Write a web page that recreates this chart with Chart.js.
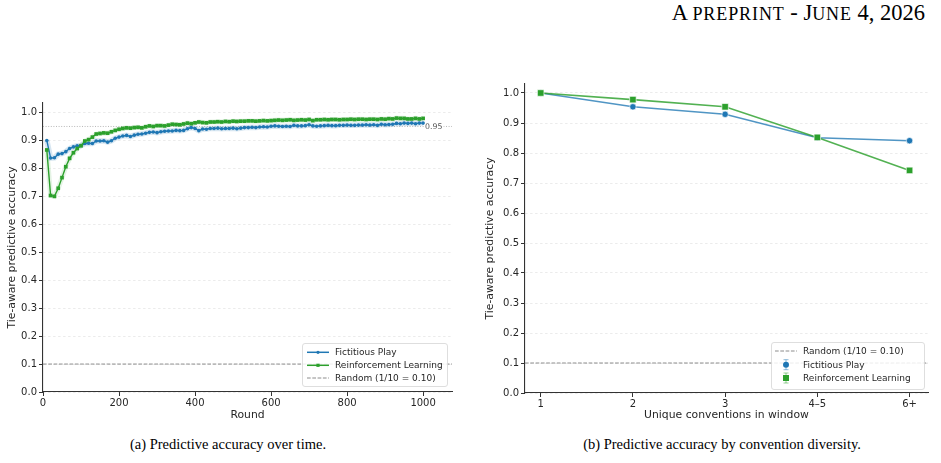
<!DOCTYPE html>
<html>
<head>
<meta charset="utf-8">
<script src="https://cdn.jsdelivr.net/npm/chart.js@4.4.1/dist/chart.umd.min.js"></script>
<style>
  body { margin:0; background:#fff; width:941px; height:463px; position:relative; overflow:hidden; }
  #hdr { position:absolute; right:16px; top:0px; font-family:"Liberation Serif","Times New Roman",serif; font-size:22.5px; color:#000; white-space:nowrap; }
  #hdr .sc { font-size:0.8em; letter-spacing:0.05em; }
  .cap { position:absolute; top:436px; font-family:"Liberation Serif","Times New Roman",serif; font-size:14.5px; color:#000; white-space:nowrap; transform:translateX(-50%); }
  #wrapA { position:absolute; left:0; top:90px; }
  #wrapB { position:absolute; left:470px; top:75px; }
</style>
</head>
<body>
<div id="hdr">A <span class="sc">PREPRINT</span> - J<span class="sc">UNE</span> 4, 2026</div>
<div id="wrapA"><canvas id="chartA" width="462" height="340"></canvas></div>
<div id="wrapB"><canvas id="chartB" width="471" height="355"></canvas></div>
<div class="cap" style="left:228px">(a) Predictive accuracy over time.</div>
<div class="cap" style="left:722px">(b) Predictive accuracy by convention diversity.</div>
<script>
// --- data (a): accuracy per round
const rounds = [10,20,30,40,50,60,70,80,90,100,110,120,130,140,150,160,170,180,190,200,
  210,220,230,240,250,260,270,280,290,300,310,320,330,340,350,360,370,380,390,400,
  410,420,430,440,450,460,470,480,490,500,510,520,530,540,550,560,570,580,590,600,
  610,620,630,640,650,660,670,680,690,700,710,720,730,740,750,760,770,780,790,800,
  810,820,830,840,850,860,870,880,890,900,910,920,930,940,950,960,970,980,990,1000];
const fpAcc = [0.900,0.837,0.838,0.851,0.853,0.860,0.871,0.877,0.881,0.882,
  0.889,0.890,0.889,0.898,0.898,0.899,0.894,0.899,0.908,0.912,
  0.916,0.918,0.914,0.919,0.922,0.923,0.926,0.929,0.930,0.928,
  0.931,0.933,0.934,0.934,0.936,0.935,0.936,0.942,0.946,0.943,
  0.935,0.941,0.940,0.943,0.943,0.944,0.942,0.943,0.943,0.944,
  0.942,0.944,0.946,0.946,0.947,0.946,0.948,0.949,0.948,0.951,
  0.952,0.951,0.950,0.951,0.950,0.954,0.952,0.952,0.953,0.956,
  0.952,0.951,0.952,0.953,0.954,0.953,0.953,0.954,0.954,0.955,
  0.954,0.954,0.955,0.955,0.956,0.955,0.956,0.954,0.958,0.956,
  0.957,0.958,0.961,0.960,0.962,0.961,0.962,0.960,0.962,0.962];
const rlAcc = [0.866,0.703,0.700,0.729,0.767,0.806,0.836,0.856,0.871,0.881,
  0.898,0.903,0.912,0.923,0.925,0.927,0.926,0.931,0.936,0.940,
  0.943,0.945,0.944,0.946,0.947,0.945,0.949,0.952,0.950,0.953,
  0.953,0.952,0.955,0.958,0.957,0.956,0.959,0.962,0.960,0.963,
  0.966,0.964,0.963,0.966,0.966,0.967,0.966,0.968,0.967,0.969,
  0.968,0.969,0.969,0.970,0.970,0.969,0.970,0.971,0.970,0.971,
  0.972,0.973,0.972,0.973,0.974,0.972,0.973,0.974,0.973,0.975,
  0.971,0.974,0.974,0.975,0.974,0.975,0.975,0.974,0.975,0.975,
  0.976,0.975,0.976,0.976,0.975,0.976,0.976,0.975,0.977,0.976,
  0.978,0.977,0.980,0.979,0.979,0.977,0.977,0.979,0.977,0.979];

// --- data (b): accuracy by number of unique conventions
const convCats = ['1', '2', '3', '4–5', '6+'];
const fpByConv = [1.000, 0.954, 0.929, 0.851, 0.841];
const rlByConv = [1.000, 0.978, 0.954, 0.852, 0.742];

const yTicks = [0.0,0.1,0.2,0.3,0.4,0.5,0.6,0.7,0.8,0.9,1.0];
const roundTicks = [0,200,400,600,800,1000];
const seriesNames = ['Fictitious Play', 'Reinforcement Learning'];
const randomLevel = 0.10;
const randomLabel = 'Random (1/10 = 0.10)';
const refLevel = 0.95;

const BLUE = '#1f77b4', GREEN = '#2ca02c';
const INK = '#262626';
const FONT = '"DejaVu Sans", sans-serif';

// horizontal reference lines drawn below the data
const refLines = {
  id: 'refLines',
  beforeDatasetsDraw(chart, args, opts) {
    const {ctx, chartArea: a, scales: {y}} = chart;
    (opts.lines || []).forEach(l => {
      const py = y.getPixelForValue(l.value);
      ctx.save();
      ctx.strokeStyle = l.color;
      ctx.lineWidth = l.width || 1;
      ctx.setLineDash(l.dash);
      ctx.beginPath();
      ctx.moveTo(a.left, py);
      ctx.lineTo(a.right, py);
      ctx.stroke();
      if (l.text) {
        ctx.font = '7.8px ' + FONT;
        const tw = ctx.measureText(l.text).width;
        const tx = a.right - 27;
        ctx.fillStyle = '#fff';
        ctx.fillRect(tx - 1, py - 5, tw + 2, 10);
        ctx.fillStyle = '#555';
        ctx.textBaseline = 'middle';
        ctx.fillText(l.text, tx, py + 0.5);
      }
      ctx.restore();
    });
  }
};

function drawMarker(ctx, kind, x, y, r, color) {
  ctx.fillStyle = color;
  ctx.beginPath();
  if (kind === 'circle') ctx.arc(x, y, r, 0, Math.PI * 2);
  else ctx.rect(x - r, y - r, 2 * r, 2 * r);
  ctx.fill();
}

// legend box inside the plot, bottom right
const boxLegend = {
  id: 'boxLegend',
  afterDraw(chart, args, o) {
    const {ctx, chartArea: a} = chart;
    const x0 = a.right - o.gapRight - o.w, y0 = a.bottom - o.gapBottom - o.h;
    ctx.save();
    ctx.fillStyle = 'rgba(255,255,255,0.85)';
    ctx.strokeStyle = '#d6d6d6';
    ctx.lineWidth = 0.8;
    ctx.beginPath();
    ctx.roundRect(x0 + 0.5, y0 + 0.5, o.w, o.h, 2.5);
    ctx.fill();
    ctx.stroke();
    ctx.font = '9px ' + FONT;
    ctx.textBaseline = 'middle';
    o.items.forEach((it, i) => {
      const ry = y0 + o.rows[i];
      const sx = x0 + o.sampleX, ex = sx + 22, mx = (sx + ex) / 2;
      ctx.setLineDash(it.dash || []);
      if (it.kind !== 'err') {
        ctx.strokeStyle = it.color;
        ctx.lineWidth = it.dash ? 1 : 1.5;
        ctx.beginPath();
        ctx.moveTo(sx, ry);
        ctx.lineTo(ex, ry);
        ctx.stroke();
        if (it.marker) drawMarker(ctx, it.marker, mx, ry, 1.6, it.color);
      } else {
        ctx.strokeStyle = it.color;
        ctx.globalAlpha = 0.5;
        ctx.lineWidth = 1;
        ctx.beginPath();
        ctx.moveTo(mx, ry - 5); ctx.lineTo(mx, ry + 5);
        ctx.moveTo(mx - 2.5, ry - 5); ctx.lineTo(mx + 2.5, ry - 5);
        ctx.moveTo(mx - 2.5, ry + 5); ctx.lineTo(mx + 2.5, ry + 5);
        ctx.stroke();
        ctx.globalAlpha = 1;
        drawMarker(ctx, it.marker, mx, ry, 3, it.color);
      }
      ctx.setLineDash([]);
      ctx.fillStyle = INK;
      ctx.fillText(it.text, x0 + o.textX, ry + 0.5);
    });
    ctx.restore();
  }
};

function yScale(width, titlePad) {
  return {
    min: 0, max: 1.034,
    afterBuildTicks: s => { s.ticks = yTicks.map(v => ({value: v})); },
    afterFit: s => { s.width = width; },
    ticks: { color: INK, font: {family: FONT, size: 10}, padding: 2,
             callback: v => v.toFixed(1) },
    grid: { color: 'rgba(0,0,0,0.10)', lineWidth: 0.8, tickLength: 4,
            tickColor: '#333', tickWidth: 1, tickBorderDash: [] },
    border: { color: '#333', width: 1.1, dash: [2.5, 2.5] },
    title: { display: true, text: 'Tie-aware predictive accuracy', color: INK,
             font: {family: FONT, size: 10.8}, padding: {top: titlePad, bottom: 0} }
  };
}

Chart.defaults.animation = false;
Chart.defaults.font.family = FONT;

new Chart(document.getElementById('chartA'), {
  type: 'line',
  data: {
    datasets: [
      { data: rounds.map((r, i) => ({x: r, y: rlAcc[i]})), borderColor: 'rgba(44,160,44,0.13)',
        borderWidth: 5, pointRadius: 0, order: 4 },
      { data: rounds.map((r, i) => ({x: r, y: fpAcc[i]})), borderColor: 'rgba(31,119,180,0.18)',
        borderWidth: 5.5, pointRadius: 0, order: 3 },
      { label: seriesNames[0], data: rounds.map((r, i) => ({x: r, y: fpAcc[i]})),
        borderColor: BLUE, backgroundColor: BLUE, borderWidth: 1.4,
        pointStyle: 'circle', pointRadius: 1.8, pointBorderWidth: 0, order: 2 },
      { label: seriesNames[1], data: rounds.map((r, i) => ({x: r, y: rlAcc[i]})),
        borderColor: GREEN, backgroundColor: GREEN, borderWidth: 1.4,
        pointStyle: 'rect', pointRadius: 2.6, pointBorderWidth: 0, order: 1 }
    ]
  },
  options: {
    responsive: false,
    layout: { padding: {left: 0, right: 10, top: 13, bottom: 4} },
    plugins: {
      legend: {display: false}, tooltip: {enabled: false},
      refLines: { lines: [
        {value: randomLevel, color: '#8c8c8c', dash: [3.7, 1.6], width: 1},
        {value: refLevel, color: '#b0b0b0', dash: [1, 1.6], width: 0.9, text: refLevel.toFixed(2)}
      ]},
      boxLegend: { w: 145, h: 43, gapRight: 5, gapBottom: 6, rows: [9.3, 22.3, 35],
        sampleX: 5, textX: 33, items: [
          {text: seriesNames[0], color: BLUE, marker: 'circle'},
          {text: seriesNames[1], color: GREEN, marker: 'rect'},
          {text: randomLabel, color: '#8c8c8c', dash: [3.7, 1.6]}
        ]}
    },
    scales: {
      x: {
        type: 'linear', min: 0, max: 1076,
        afterBuildTicks: s => { s.ticks = roundTicks.map(v => ({value: v})); },
        afterFit: s => { s.height = 34; },
        ticks: { color: INK, font: {family: FONT, size: 10}, padding: 1.5, maxRotation: 0,
                 callback: v => String(v) },
        grid: { drawOnChartArea: false, tickLength: 4, tickColor: '#333', tickWidth: 1 },
        border: { color: '#333', width: 1.1 },
        title: { display: true, text: 'Round', color: INK, font: {family: FONT, size: 10.8},
                 padding: {top: 0, bottom: 4} }
      },
      y: yScale(43, 5.5)
    }
  },
  plugins: [refLines, boxLegend]
});

new Chart(document.getElementById('chartB'), {
  type: 'line',
  data: {
    datasets: [
      { label: seriesNames[0], data: convCats.map((c, i) => ({x: i, y: fpByConv[i]})),
        borderColor: 'rgba(31,119,180,0.78)', backgroundColor: BLUE, borderWidth: 1.6,
        pointStyle: 'circle', pointRadius: 3.2, pointBorderColor: 'rgba(255,255,255,0.8)',
        pointBorderWidth: 0.8, order: 2 },
      { label: seriesNames[1], data: convCats.map((c, i) => ({x: i, y: rlByConv[i]})),
        borderColor: 'rgba(44,160,44,0.82)', backgroundColor: GREEN, borderWidth: 1.6,
        pointStyle: 'rect', pointRadius: 4.6, pointBorderColor: 'rgba(255,255,255,0.8)',
        pointBorderWidth: 0.8, order: 1 }
    ]
  },
  options: {
    responsive: false,
    layout: { padding: {left: 0, right: 13, top: 9, bottom: 3} },
    plugins: {
      legend: {display: false}, tooltip: {enabled: false},
      refLines: { lines: [
        {value: randomLevel, color: '#8c8c8c', dash: [3.7, 1.6], width: 1}
      ]},
      boxLegend: { w: 153, h: 47, gapRight: 4, gapBottom: 4, rows: [9, 22.7, 36],
        sampleX: 4, textX: 32, items: [
          {text: randomLabel, color: '#8c8c8c', dash: [3.7, 1.6]},
          {text: seriesNames[0], color: BLUE, marker: 'circle', kind: 'err'},
          {text: seriesNames[1], color: GREEN, marker: 'rect', kind: 'err'}
        ]}
    },
    scales: {
      x: {
        type: 'linear', min: -0.17, max: 4.2,
        afterBuildTicks: s => { s.ticks = convCats.map((c, i) => ({value: i})); },
        afterFit: s => { s.height = 34; },
        ticks: { color: INK, font: {family: FONT, size: 10}, padding: 1.5, maxRotation: 0,
                 callback: v => convCats[v] },
        grid: { drawOnChartArea: false, tickLength: 4, tickColor: '#333', tickWidth: 1 },
        border: { color: '#333', width: 1.1 },
        title: { display: true, text: 'Unique conventions in window', color: INK,
                 font: {family: FONT, size: 10.8}, padding: {top: 0, bottom: 5} }
      },
      y: Object.assign(yScale(55, 13.5), {max: 1.03})
    }
  },
  plugins: [refLines, boxLegend]
});
</script>
</body>
</html>
